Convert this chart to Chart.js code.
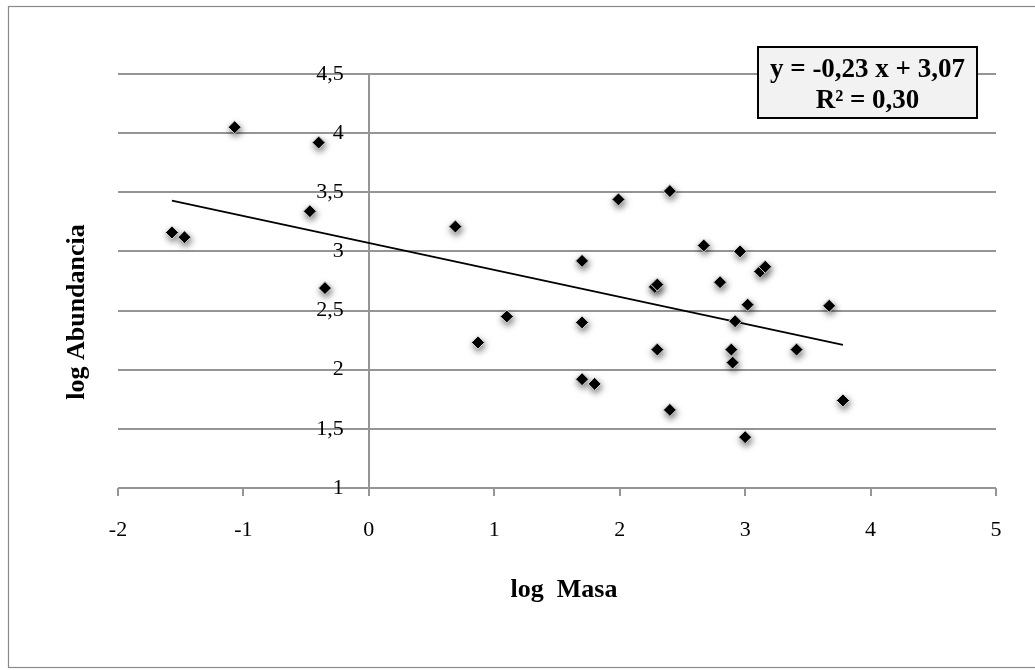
<!DOCTYPE html>
<html lang="es">
<head>
    <meta charset="UTF-8">
    <title>log Abundancia vs log Masa</title>
    <script src="https://cdn.jsdelivr.net/npm/chart.js"></script>
    <style>
        html, body { margin: 0; padding: 0; background: #ffffff; }
        #wrap { position: relative; width: 1035px; height: 670px; }
    </style>
</head>
<body>
<div id="wrap"><canvas id="chart" width="1035" height="670"></canvas></div>
<script>
    // points
    const logMasa = [-1.07, -0.40, -0.47, -1.57, -1.47, -0.35, 0.69, 1.99, 2.40, 2.67, 2.96, 1.70,
        2.28, 2.30, 2.80, 3.02, 3.12, 3.16, 3.67, 1.10, 0.87, 1.70, 2.30, 2.92, 2.89, 2.90,
        1.70, 1.80, 2.40, 3.00, 3.41, 3.78];
    const logAbundancia = [4.05, 3.92, 3.34, 3.16, 3.12, 2.69, 3.21, 3.44, 3.51, 3.05, 3.00, 2.92,
        2.70, 2.72, 2.74, 2.55, 2.83, 2.87, 2.54, 2.45, 2.23, 2.40, 2.17, 2.41, 2.17, 2.06,
        1.92, 1.88, 1.66, 1.43, 2.17, 1.74];

    // trend line ends
    const trendX = [-1.57, 3.78];
    const trendY = [3.43, 2.21];
    const trendText = ['y = -0,23 x + 3,07', 'R² = 0,30'];

    const xTicks = ['-2', '-1', '0', '1', '2', '3', '4', '5'];
    const yTicks = ['1', '1,5', '2', '2,5', '3', '3,5', '4', '4,5'];

    const GRID = '#959595';
    const SERIF = "'Liberation Serif', 'DejaVu Serif', serif";

    const points = logMasa.map((x, i) => ({ x: x, y: logAbundancia[i] }));
    const trend = trendX.map((x, i) => ({ x: x, y: trendY[i] }));

    // marker shadow for the scatter set only
    const shadowPlugin = {
        id: 'shadow',
        beforeDatasetDraw(chart, args) {
            if (args.index !== 0) return;
            const ctx = chart.ctx;
            ctx.save();
            ctx.shadowColor = 'rgba(0,0,0,0.5)';
            ctx.shadowBlur = 6;
            ctx.shadowOffsetX = 1;
            ctx.shadowOffsetY = 3;
        },
        afterDatasetDraw(chart, args) {
            if (args.index === 0) chart.ctx.restore();
        }
    };

    // frame, axis titles and the equation box
    const decoPlugin = {
        id: 'deco',
        beforeDraw(chart) {
            const ctx = chart.ctx;
            ctx.save();
            ctx.fillStyle = '#ffffff';
            ctx.fillRect(0, 0, chart.width, chart.height);
            ctx.strokeStyle = '#8a8a8a';
            ctx.lineWidth = 1.2;
            ctx.strokeRect(8.5, 6.5, 1100, 661);
            ctx.restore();
        },
        afterDraw(chart) {
            const ctx = chart.ctx;
            ctx.save();
            ctx.fillStyle = '#000';
            ctx.font = 'bold 26px ' + SERIF;
            ctx.textAlign = 'center';
            ctx.textBaseline = 'middle';
            ctx.fillText('log  Masa', 564, 590);

            ctx.translate(77, 312);
            ctx.rotate(-Math.PI / 2);
            ctx.fillText('log Abundancia', 0, 0);
            ctx.restore();

            ctx.save();
            ctx.fillStyle = '#f2f2f2';
            ctx.fillRect(758, 47, 219, 71);
            ctx.strokeStyle = '#000';
            ctx.lineWidth = 2;
            ctx.strokeRect(758, 47, 219, 71);
            ctx.fillStyle = '#000';
            ctx.font = 'bold 27px ' + SERIF;
            ctx.textAlign = 'center';
            ctx.textBaseline = 'alphabetic';
            ctx.fillText(trendText[0], 867.5, 77);
            ctx.fillText(trendText[1], 867.5, 108);
            ctx.restore();
        }
    };

    new Chart(document.getElementById('chart'), {
        type: 'scatter',
        data: {
            datasets: [{
                data: points,
                order: 0,
                pointStyle: 'rectRot',
                pointRadius: 6.5,
                pointHoverRadius: 6.5,
                backgroundColor: '#000',
                borderColor: '#dadada',
                borderWidth: 1
            }, {
                type: 'line',
                data: trend,
                order: 1,
                showLine: true,
                pointRadius: 0,
                borderColor: '#000',
                borderWidth: 1.8,
                fill: false
            }]
        },
        options: {
            responsive: false,
            animation: false,
            events: [],
            layout: { padding: { left: 118, right: 39, top: 74, bottom: 0 } },
            plugins: { legend: { display: false }, tooltip: { enabled: false } },
            scales: {
                x: {
                    type: 'linear',
                    min: -2,
                    max: 5,
                    afterFit(s) { s.height = 182; },
                    afterBuildTicks(s) {
                        s.ticks = xTicks.map(t => ({ value: parseFloat(t) }));
                    },
                    ticks: {
                        padding: 21,
                        color: '#000',
                        font: { family: SERIF, size: 22 },
                        callback: (v, i) => xTicks[i]
                    },
                    grid: {
                        color: c => (c.tick && c.tick.value === 0) ? GRID : 'rgba(0,0,0,0)',
                        tickColor: GRID,
                        lineWidth: 2,
                        tickLength: 8
                    },
                    border: { display: false }
                },
                y: {
                    type: 'linear',
                    position: { x: -0.2 },
                    min: 1,
                    max: 4.5,
                    afterFit(s) { s.width = 0; },
                    afterBuildTicks(s) {
                        s.ticks = yTicks.map(t => ({ value: parseFloat(t.replace(',', '.')) }));
                    },
                    ticks: {
                        color: '#000',
                        font: { family: SERIF, size: 22 },
                        callback: (v, i) => yTicks[i]
                    },
                    grid: {
                        color: GRID,
                        lineWidth: 2,
                        drawTicks: false
                    },
                    border: { display: false }
                }
            }
        },
        plugins: [shadowPlugin, decoPlugin]
    });
</script>
</body>
</html>
